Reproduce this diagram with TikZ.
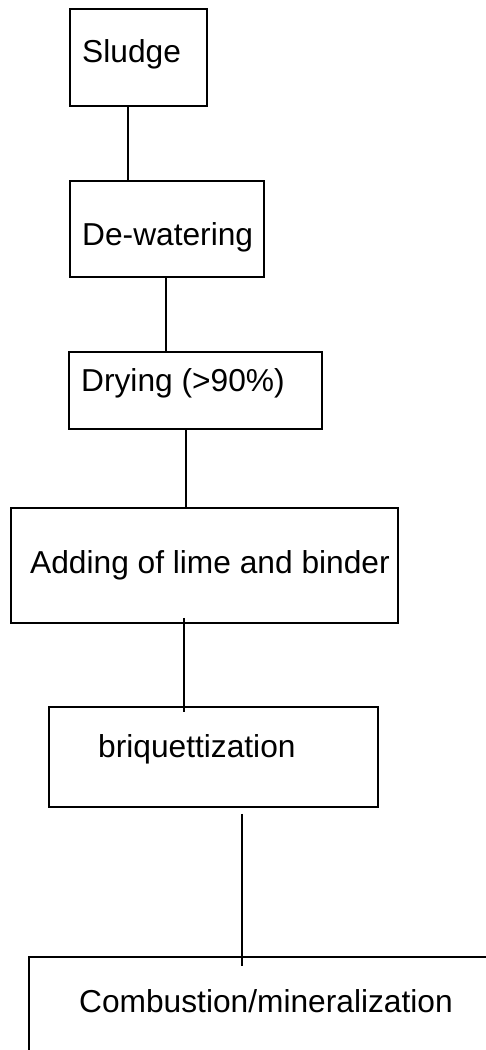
\documentclass[tikz,border=0pt]{standalone}
\usepackage{fontspec}
\setmainfont{Liberation Sans}
\usetikzlibrary{positioning}

\tikzset{
	stepbox/.style={draw, rectangle, line width=1.8pt, inner sep=0pt},
	steptext/.style={inner sep=0pt, anchor=base west, font=\fontsize{31.7}{38}\selectfont},
	link/.style={line width=1.8pt}
}

\begin{document}
\begin{tikzpicture}[x=1pt,y=-1pt]
		\useasboundingbox (0,0) rectangle (486,1050);

		% frames
		\node[stepbox, minimum width=137pt, minimum height=97pt] (sludge) at (138.5,57.5) {};
		\node[stepbox, minimum width=194pt, minimum height=96pt] (dewater) at (167,229) {};
		\node[stepbox, minimum width=253pt, minimum height=77pt] (drying) at (195.5,390.5) {};
		\node[stepbox, minimum width=387pt, minimum height=115pt] (adding) at (204.5,565.5) {};
		\node[stepbox, minimum width=329pt, minimum height=100pt] (brique) at (213.5,757) {};
		\node[stepbox, minimum width=511pt, minimum height=153pt] (combust) at (284.5,1033.5) {};

		% texts
		\node[steptext] (sludgetxt) at (82,62) {Sludge};
		\node[steptext] (dewatertxt) at (82,245) {De-watering};
		\node[steptext] (dryingtxt) at (81,391) {Drying (>90\%)};
		\node[steptext] (addingtxt) at (30,573) {Adding of lime and binder};
		\node[steptext] (briquetxt) at (98,757) {briquettization};
		\node[steptext] (combusttxt) at (79,1012) {Combustion/mineralization};

		\draw[link] ([xshift=-10.5pt]sludge.south)--([xshift=-39pt]dewater.north);
		\draw[link] ([xshift=-1pt]dewater.south)--([xshift=-29.5pt]drying.north);
		\draw[link] ([xshift=-9.5pt]drying.south)--([xshift=-18.5pt]adding.north);
		\draw[link] ([xshift=-20.5pt,yshift=6pt]adding.south)--([xshift=-29.5pt,yshift=-6pt]brique.north);
		\draw[link] ([xshift=28.5pt,yshift=-6pt]brique.south)--([xshift=-42.5pt,yshift=-10pt]combust.north);
	\end{tikzpicture}
\end{document}
